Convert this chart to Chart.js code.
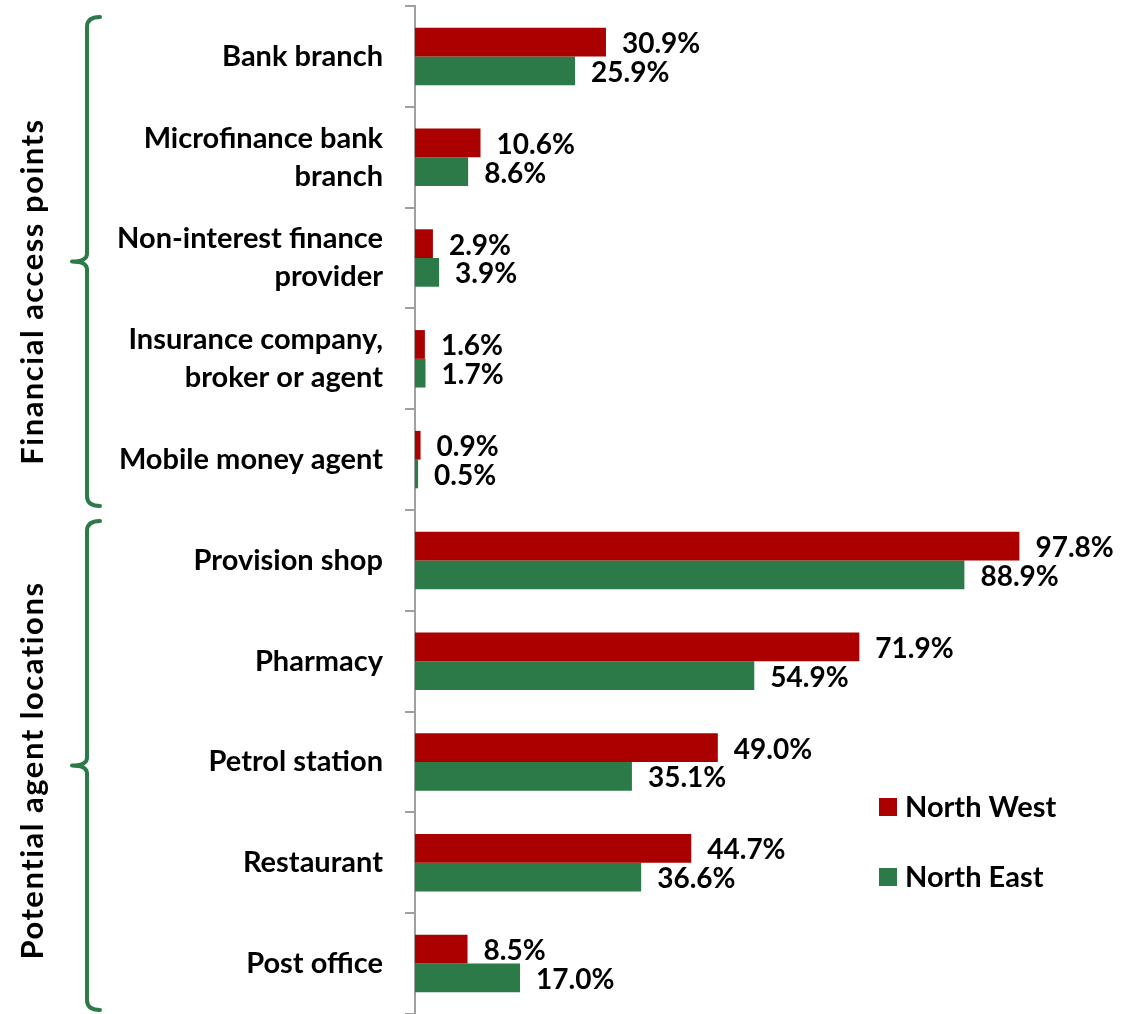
<!DOCTYPE html>
<html>
<head>
<meta charset="utf-8">
<script src="https://cdn.jsdelivr.net/npm/chart.js@4.4.1/dist/chart.umd.min.js"></script>
<style>
  body { margin: 0; background: #fff; }
  #wrap { width: 1128px; height: 1014px; }
</style>
</head>
<body>
<div id="wrap"><canvas id="chart" width="1128" height="1014"></canvas></div>
<script>
// chart data
const categories = [
    'Bank branch',
    ['Microfinance bank', 'branch'],
    ['Non-interest finance', 'provider'],
    ['Insurance company,', 'broker or agent'],
    'Mobile money agent',
    'Provision shop',
    'Pharmacy',
    'Petrol station',
    'Restaurant',
    'Post office'
];
const northWest = [30.9, 10.6, 2.9, 1.6, 0.9, 97.8, 71.9, 49.0, 44.7, 8.5];
const northEast = [25.9, 8.6, 3.9, 1.7, 0.5, 88.9, 54.9, 35.1, 36.6, 17.0];
const seriesNames = ['North West', 'North East'];
const groupLabels = ['Financial access points', 'Potential agent locations'];
const groupStart = [0, 5];
const groupEnd = [4, 9];

const RED = '#aa0000';
const GREEN = '#2b7a48';
const FONT = 'Lato, "Open Sans", sans-serif';

// value labels to the right of each bar
const valueLabels = {
    id: 'valueLabels',
    afterDatasetsDraw(chart) {
        const ctx = chart.ctx;
        ctx.save();
        ctx.font = 'bold 28px ' + FONT;
        ctx.fillStyle = '#000';
        ctx.textAlign = 'left';
        ctx.textBaseline = 'middle';
        chart.data.datasets.forEach((ds, i) => {
            chart.getDatasetMeta(i).data.forEach((bar, j) => {
                ctx.fillText(ds.data[j].toFixed(1) + '%', bar.x + 16, bar.y + 2);
            });
        });
        ctx.restore();
    }
};

// curly brackets and group titles on the left
const groupBraces = {
    id: 'groupBraces',
    afterDraw(chart) {
        const ctx = chart.ctx;
        const y = chart.scales.y;
        const step = y.getPixelForValue(1) - y.getPixelForValue(0);
        const textShift = [30, 5];
        ctx.save();
        ctx.strokeStyle = GREEN;
        ctx.lineWidth = 4;
        ctx.lineCap = 'round';
        ctx.lineJoin = 'round';
        groupLabels.forEach((label, g) => {
            const top = y.getPixelForValue(groupStart[g]) - step / 2 + 11;
            const bottom = Math.min(y.getPixelForValue(groupEnd[g]) + step / 2 - 4, 1010);
            const tip = (top + bottom) / 2;
            const x = 87;
            ctx.beginPath();
            ctx.moveTo(x + 13, top);
            ctx.quadraticCurveTo(x, top, x, top + 10);
            ctx.lineTo(x, tip - 8);
            ctx.quadraticCurveTo(x, tip, x - 15, tip);
            ctx.moveTo(x - 15, tip);
            ctx.quadraticCurveTo(x, tip, x, tip + 8);
            ctx.lineTo(x, bottom - 10);
            ctx.quadraticCurveTo(x, bottom, x + 13, bottom);
            ctx.stroke();

            ctx.save();
            ctx.translate(43, tip + textShift[g]);
            ctx.rotate(-Math.PI / 2);
            ctx.font = 'bold 31px ' + FONT;
            ctx.letterSpacing = '1.5px';
            ctx.fillStyle = '#000';
            ctx.textAlign = 'center';
            ctx.textBaseline = 'alphabetic';
            ctx.fillText(label, 0, 0);
            ctx.restore();
        });
        ctx.restore();
    }
};

// legend placed inside the plot, lower right
const boxLegend = {
    id: 'boxLegend',
    afterDraw(chart) {
        const ctx = chart.ctx;
        const rows = [807, 877];
        ctx.save();
        ctx.font = 'bold 29px ' + FONT;
        ctx.textBaseline = 'middle';
        chart.data.datasets.forEach((ds, i) => {
            ctx.fillStyle = ds.backgroundColor;
            ctx.fillRect(879, rows[i] - 9, 18, 18);
            ctx.fillStyle = '#000';
            ctx.fillText(ds.label, 905, rows[i] + 1);
        });
        ctx.restore();
    }
};

new Chart(document.getElementById('chart'), {
    type: 'bar',
    data: {
        labels: categories,
        datasets: [
            { label: seriesNames[0], data: northWest, backgroundColor: RED },
            { label: seriesNames[1], data: northEast, backgroundColor: GREEN }
        ]
    },
    options: {
        indexAxis: 'y',
        responsive: false,
        animation: false,
        categoryPercentage: 0.57,
        barPercentage: 1,
        layout: { padding: { top: 6, right: 95, bottom: 0, left: 0 } },
        plugins: {
            legend: { display: false },
            tooltip: { enabled: false }
        },
        scales: {
            x: { display: false, min: 0, max: 100 },
            y: {
                afterFit: (scale) => {
                    scale.width = 415;
                    scale.paddingTop = 0;
                    scale.paddingBottom = 0;
                },
                border: { color: '#a0a0a0', width: 2 },
                grid: {
                    offset: true,
                    drawOnChartArea: false,
                    color: '#a0a0a0',
                    lineWidth: 2,
                    tickLength: 10
                },
                ticks: {
                    padding: 22,
                    color: '#000',
                    font: { family: FONT, size: 29, weight: 'bold', lineHeight: 1.31 }
                }
            }
        }
    },
    plugins: [valueLabels, groupBraces, boxLegend]
});
</script>
</body>
</html>
